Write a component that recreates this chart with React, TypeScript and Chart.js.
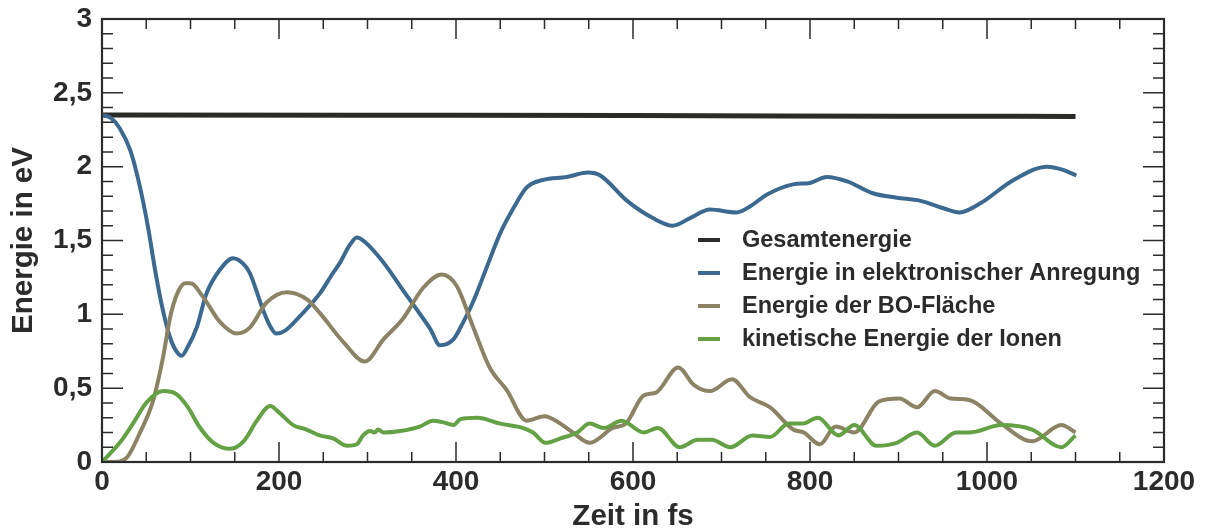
import React, { useEffect, useRef } from "react";
import { Chart, registerables } from "chart.js";

Chart.register(...registerables);

const FONT = '"Liberation Sans", Arial, Helvetica, sans-serif';
const INK = "#2b2b2b";

// ---- data (time in fs, energy in eV) ----
const seriesLabels = [
  "Gesamtenergie",
  "Energie in elektronischer Anregung",
  "Energie der BO-Fläche",
  "kinetische Energie der Ionen",
];
const seriesColors = ["#2a2a27", "#3b6990", "#8c8365", "#63a144"];
const seriesWidths = [5, 4, 4, 4];

const tTotal = [0, 300, 600, 900, 1100];
const eTotal = [2.35, 2.348, 2.346, 2.342, 2.34];

const tExcited = [
  0, 10, 20, 32, 43, 52, 60, 68, 75, 82, 90, 97, 107, 118, 133, 148, 160, 167, 182, 190, 197,
  207, 224, 246, 261, 269, 280, 288, 299, 310, 322, 337, 356, 371, 382, 397, 405, 419, 438,
  450, 464, 480, 498, 525, 549, 563, 593, 623, 645, 664, 687, 717, 732, 751, 781, 800, 819,
  842, 871, 898, 924, 950, 969, 992, 1030, 1068, 1085, 1101,
];
const eExcited = [
  2.35, 2.33, 2.26, 2.11, 1.86, 1.59, 1.3, 1.05, 0.88, 0.77, 0.72, 0.78, 0.91, 1.14, 1.3, 1.38, 1.34, 1.28, 1.03, 0.92, 0.87,
  0.89, 0.99, 1.14, 1.28, 1.35, 1.47, 1.52, 1.48, 1.41, 1.32, 1.19, 1.03, 0.9, 0.79, 0.83, 0.91, 1.08, 1.37,
  1.55, 1.71, 1.86, 1.91, 1.93, 1.96, 1.94, 1.77, 1.65, 1.6, 1.65, 1.71, 1.69, 1.73, 1.81, 1.88, 1.89, 1.93,
  1.9, 1.82, 1.79, 1.77, 1.72, 1.69, 1.75, 1.91, 2.0, 1.98, 1.94,
];

const tBO = [
  0, 13, 28, 43, 58, 69, 77, 85, 94, 100, 114, 133, 152, 167, 186, 209, 232, 246, 273, 297,
  318, 340, 363, 384, 401, 419, 438, 457, 480, 500, 518, 532, 551, 577, 592, 612, 626, 651,
  669, 687, 712, 732, 755, 781, 793, 811, 829, 850, 878, 901, 921, 941, 959, 980, 1016, 1051,
  1084, 1100,
];
const eBO = [
  0, 0.0, 0.03, 0.2, 0.42, 0.71, 0.98, 1.14, 1.21, 1.21, 1.12, 0.95, 0.87, 0.91, 1.08, 1.15, 1.1, 1.01, 0.81, 0.68,
  0.83, 0.97, 1.18, 1.27, 1.19, 0.92, 0.64, 0.49, 0.28, 0.31, 0.26, 0.2, 0.13, 0.23, 0.26, 0.45, 0.47, 0.64,
  0.52, 0.48, 0.56, 0.44, 0.37, 0.22, 0.2, 0.12, 0.24, 0.2, 0.41, 0.43, 0.37, 0.48, 0.43, 0.42, 0.26, 0.14,
  0.25, 0.2,
];

const tKin = [
  0, 20, 35, 50, 69, 84, 96, 111, 126, 145, 160, 175, 190, 201, 216, 231, 246, 261, 277, 288,
  295, 303, 308, 312, 318, 337, 359, 374, 385, 397, 405, 424, 450, 476, 487, 501, 518, 537,
  551, 567, 587, 612, 628, 653, 673, 689, 710, 735, 755, 776, 791, 809, 832, 850, 875, 898,
  921, 941, 965, 980, 1016, 1051, 1084, 1100,
];
const eKin = [
  0, 0.13, 0.26, 0.4, 0.48, 0.46, 0.38, 0.23, 0.13, 0.09, 0.14, 0.28, 0.38, 0.33, 0.25, 0.22, 0.18, 0.16, 0.11, 0.12,
  0.18, 0.21, 0.2, 0.22, 0.2, 0.21, 0.24, 0.28, 0.27, 0.25, 0.29, 0.3, 0.26, 0.23, 0.2, 0.13, 0.16, 0.2,
  0.26, 0.23, 0.28, 0.2, 0.23, 0.1, 0.15, 0.15, 0.1, 0.18, 0.17, 0.26, 0.26, 0.3, 0.18, 0.25, 0.11, 0.13,
  0.2, 0.11, 0.2, 0.2, 0.25, 0.22, 0.1, 0.18,
];

const xTitle = "Zeit in fs";
const yTitle = "Energie in eV";
const xRange = [0, 1200];
const yRange = [0, 3];
const xMajorStep = 200;
const xMinorStep = 50;
const yMajorStep = 0.5;
const yMinorStep = 0.1;

const zip = (ts: number[], vs: number[]) => ts.map((t, i) => ({ x: t, y: vs[i] }));

const frameAndLegend = {
  id: "frameAndLegend",
  afterDatasetsDraw(chart: any) {
    const { ctx, chartArea: a, scales } = chart;
    const x = scales.x;
    const y = scales.y;
    ctx.save();
    ctx.strokeStyle = INK;
    ctx.lineWidth = 1.5;
    ctx.beginPath();
    const nx = Math.round((xRange[1] - xRange[0]) / xMinorStep);
    for (let i = 0; i <= nx; i++) {
      const v = xRange[0] + i * xMinorStep;
      const px = x.getPixelForValue(v);
      const major = Math.abs(v / xMajorStep - Math.round(v / xMajorStep)) < 1e-6;
      const len = major ? 20 : 10;
      ctx.moveTo(px, a.bottom);
      ctx.lineTo(px, a.bottom - len);
      ctx.moveTo(px, a.top);
      ctx.lineTo(px, a.top + len);
    }
    const ny = Math.round((yRange[1] - yRange[0]) / yMinorStep);
    for (let i = 0; i <= ny; i++) {
      const v = yRange[0] + i * yMinorStep;
      const py = y.getPixelForValue(v);
      const major = Math.abs(v / yMajorStep - Math.round(v / yMajorStep)) < 1e-6;
      const len = major ? 21 : 11;
      ctx.moveTo(a.left, py);
      ctx.lineTo(a.left + len, py);
      ctx.moveTo(a.right, py);
      ctx.lineTo(a.right - len, py);
    }
    ctx.stroke();
    ctx.lineWidth = 2.2;
    ctx.strokeRect(a.left, a.top, a.right - a.left, a.bottom - a.top);

    // legend
    const lx = a.left + 596;
    const ly0 = a.top + 221;
    const dy = 33;
    ctx.font = `bold 23.5px ${FONT}`;
    ctx.textBaseline = "middle";
    ctx.textAlign = "left";
    chart.data.datasets.forEach((ds: any, i: number) => {
      const yy = ly0 + i * dy;
      ctx.strokeStyle = ds.borderColor;
      ctx.lineWidth = 4;
      ctx.beginPath();
      ctx.moveTo(lx, yy);
      ctx.lineTo(lx + 22, yy);
      ctx.stroke();
      ctx.fillStyle = INK;
      ctx.fillText(ds.label, lx + 44, yy + 1);
    });
    ctx.restore();
  },
};

export default function App() {
  const ref = useRef<HTMLCanvasElement | null>(null);
  useEffect(() => {
    if (!ref.current) return;
    const series = [
      zip(tTotal, eTotal),
      zip(tExcited, eExcited),
      zip(tBO, eBO),
      zip(tKin, eKin),
    ];
    const chart = new Chart(ref.current, {
      type: "line",
      data: {
        datasets: series.map((d, i) => ({
          label: seriesLabels[i],
          data: d,
          borderColor: seriesColors[i],
          backgroundColor: seriesColors[i],
          borderWidth: seriesWidths[i],
          pointRadius: 0,
          fill: false,
          cubicInterpolationMode: "monotone" as const,
          order: 4 - i,
        })),
      },
      options: {
        animation: false,
        responsive: false,
        devicePixelRatio: 1,
        layout: { padding: { top: 19, right: 43, left: 0, bottom: 0 } },
        plugins: { legend: { display: false }, tooltip: { enabled: false } },
        scales: {
          x: {
            type: "linear",
            min: xRange[0],
            max: xRange[1],
            grid: { display: false, drawTicks: false },
            border: { display: false },
            ticks: {
              stepSize: xMajorStep,
              autoSkip: false,
              maxRotation: 0,
              padding: 3,
              color: INK,
              font: { family: FONT, size: 28, weight: "bold" },
              callback: (v: any) => String(v),
            },
            title: {
              display: true,
              text: xTitle,
              color: INK,
              padding: { top: 0, bottom: -3 },
              font: { family: FONT, size: 29.5, weight: "bold" },
            },
            afterFit: (s: any) => {
              s.height = 70;
              s.paddingLeft = 0;
              s.paddingRight = 0;
            },
          },
          y: {
            type: "linear",
            min: yRange[0],
            max: yRange[1],
            grid: { display: false, drawTicks: false },
            border: { display: false },
            ticks: {
              stepSize: yMajorStep,
              autoSkip: false,
              padding: 10,
              color: INK,
              font: { family: FONT, size: 28, weight: "bold" },
              callback: (v: any) => String(v).replace(".", ","),
            },
            title: {
              display: true,
              text: yTitle,
              color: INK,
              padding: { top: 6, bottom: 0 },
              font: { family: FONT, size: 29.5, weight: "bold" },
            },
            afterFit: (s: any) => {
              s.width = 102;
              s.paddingTop = 0;
              s.paddingBottom = 0;
            },
          },
        },
      },
      plugins: [frameAndLegend],
    });
    return () => chart.destroy();
  }, []);
  return (
    <div style={{ position: "absolute", left: 0, top: 0, width: 1207, height: 532, background: "#fff" }}>
      <canvas ref={ref} width={1207} height={532} style={{ display: "block" }} />
    </div>
  );
}
